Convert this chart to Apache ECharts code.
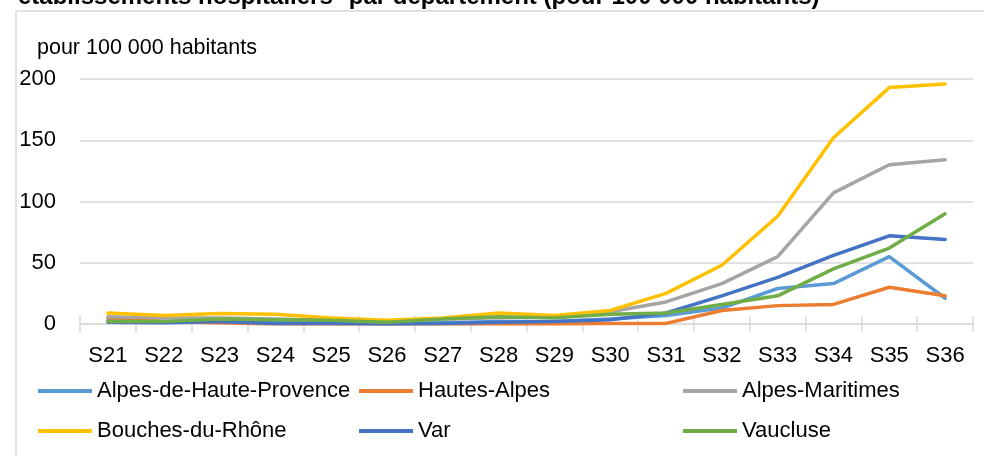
<!DOCTYPE html>
<html>
<head>
<meta charset="utf-8">
<script src="https://cdn.jsdelivr.net/npm/echarts@6/dist/echarts.min.js"></script>
<style>
  html, body { margin: 0; padding: 0; background: #fff; }
  #chart { width: 984px; height: 456px; }
</style>
</head>
<body>
<div id="chart"></div>
<script>
'use strict';

var weeks = ['S21', 'S22', 'S23', 'S24', 'S25', 'S26', 'S27', 'S28', 'S29', 'S30', 'S31', 'S32', 'S33', 'S34', 'S35', 'S36'];

var alpesHauteProvence = [3, 2, 2, 1, 1, 0.5, 1, 2, 2, 4, 7, 13, 29, 33, 55, 21];
var hautesAlpes = [5, 2, 1, 0, 0, 0, 0, 0, 0, 0.5, 0.5, 11, 15, 16, 30, 23];
var alpesMaritimes = [6, 5, 5, 4, 3, 2, 4, 5, 6, 10, 18, 33, 55, 107, 130, 134];
var bouchesDuRhone = [9, 7, 8.5, 8, 5, 3, 5, 9, 7, 11, 25, 48, 88, 152, 193, 196];
var varDept = [1.5, 1, 2, 0.5, 0.5, 0, 0.5, 1.5, 2, 3.5, 9, 23, 38, 56, 72, 69];
var vaucluse = [2, 2, 4, 3.5, 3, 1.5, 4, 6, 5, 8, 9, 16, 23, 45, 62, 90];

var yTicks = [0, 50, 100, 150, 200];

var font = '"Liberation Sans", Arial, sans-serif';

function makeSeries(name, data, color) {
    return {
        name: name,
        type: 'line',
        data: data,
        showSymbol: false,
        symbol: 'none',
        smooth: false,
        lineStyle: { width: 3.5, color: color, cap: 'round', join: 'round' },
        itemStyle: { color: color },
        z: 3
    };
}

function makeLegend(left, names) {
    return {
        orient: 'vertical',
        left: left,
        top: 380,
        itemWidth: 54,
        itemHeight: 4,
        itemGap: 18,
        icon: 'rect',
        data: names,
        textStyle: { fontFamily: font, fontSize: 22, color: '#000', padding: [0, 0, 0, 0] },
        padding: 0
    };
}

var chart = echarts.init(document.getElementById('chart'));

var option = {
    animation: false,
    backgroundColor: '#fff',
    graphic: [{
        type: 'rect',
        shape: { x: 16, y: 11, width: 1100, height: 600 },
        style: { fill: 'none', stroke: '#d9d9d9', lineWidth: 1.5 },
        silent: true
    }, {
        type: 'text',
        left: 18,
        top: -15,
        style: {
            text: 'établissements hospitaliers* par département (pour 100 000 habitants)',
            font: 'bold 24px ' + font,
            fill: '#000'
        }
    }, {
        type: 'text',
        left: 37,
        top: 37,
        style: {
            text: 'pour 100 000 habitants',
            font: '21.5px ' + font,
            fill: '#000'
        }
    }],
    grid: { left: 80, right: 11, top: 79, bottom: 132, containLabel: false },
    legend: [
        makeLegend(38, ['Alpes-de-Haute-Provence', 'Bouches-du-Rhône']),
        makeLegend(359, ['Hautes-Alpes', 'Var']),
        makeLegend(683, ['Alpes-Maritimes', 'Vaucluse'])
    ],
    xAxis: [{
        type: 'category',
        data: weeks,
        boundaryGap: true,
        axisLine: { lineStyle: { color: '#d9d9d9', width: 1.5 } },
        axisTick: { show: true, length: 8, alignWithLabel: false, lineStyle: { color: '#d9d9d9', width: 1.5 } },
        axisLabel: { margin: 21, fontFamily: font, fontSize: 22, color: '#000' },
        splitLine: { show: false }
    }, {
        type: 'category',
        data: weeks,
        position: 'bottom',
        boundaryGap: true,
        axisLine: { show: false },
        axisTick: { show: true, inside: true, length: 8, lineStyle: { color: '#d9d9d9', width: 1.5 } },
        axisLabel: { show: false },
        splitLine: { show: false }
    }],
    yAxis: {
        type: 'value',
        min: yTicks[0],
        max: yTicks[yTicks.length - 1],
        interval: 50,
        axisLine: { show: false },
        axisTick: { show: false },
        axisLabel: { margin: 24, fontFamily: font, fontSize: 22, color: '#000' },
        splitLine: { lineStyle: { color: '#d9d9d9', width: 1.5 } }
    },
    series: [
        makeSeries('Alpes-de-Haute-Provence', alpesHauteProvence, '#5B9BD5'),
        makeSeries('Hautes-Alpes', hautesAlpes, '#ED7D31'),
        makeSeries('Alpes-Maritimes', alpesMaritimes, '#A5A5A5'),
        makeSeries('Bouches-du-Rhône', bouchesDuRhone, '#FFC000'),
        makeSeries('Var', varDept, '#4472C4'),
        makeSeries('Vaucluse', vaucluse, '#70AD47')
    ]
};

chart.setOption(option);
</script>
</body>
</html>
